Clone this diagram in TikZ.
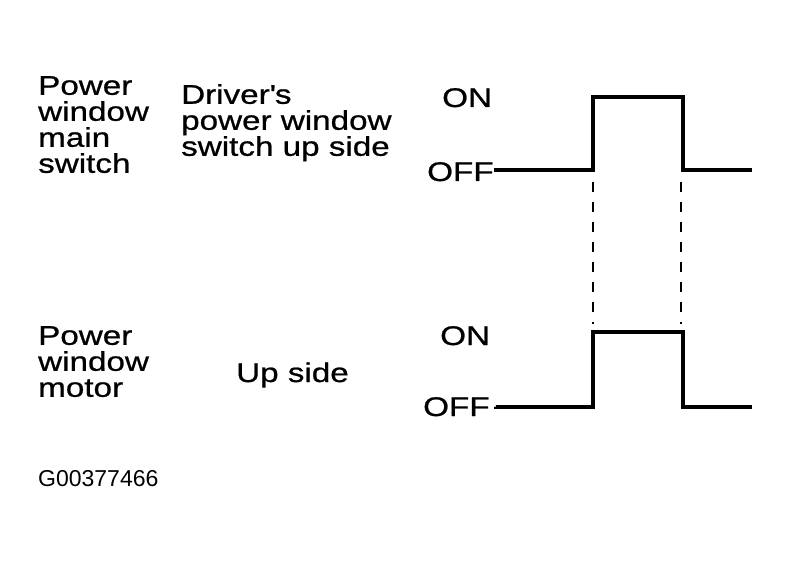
\documentclass[tikz,border=0pt]{standalone}
\usepackage{fontspec}
\setmainfont[FakeStretch=1.23, FakeBold=0.8]{Liberation Sans}
\newfontfamily\codefont{Liberation Sans}
\usetikzlibrary{calc}

\begin{document}
\begin{tikzpicture}[
x=1pt, y=-1pt,
% #region Picture settings %
lbl/.style={inner sep=0pt, align=left, font=\fontsize{27}{26}\selectfont},
sig/.style={line width=3.4pt, line join=miter},
guide/.style={line width=1.8pt, dash pattern=on 10pt off 10pt},
% #endregion Picture settings %
]
\useasboundingbox (0,0) rectangle (790,561);

\node[lbl, anchor=north west] (mainsw) at (38,76) {Power\\window\\main\\switch};
\node[lbl, anchor=north west] (drvsw) at (181,84) {Driver\textquotesingle s\\power window\\switch up side};
\node[lbl, anchor=base west] (onA) at (442,107) {ON};
\node[lbl, anchor=base west] (offA) at (427,181) {OFF};

\node[lbl, anchor=north west] (motor) at (38,326) {Power\\window\\motor};
\node[lbl, anchor=base west] (upside) at (236,382) {Up side};
\node[lbl, anchor=base west] (onB) at (440,345) {ON};
\node[lbl, anchor=base west] (offB) at (423,416) {OFF};

\node[inner sep=0pt, anchor=base west, font=\codefont\fontsize{23}{25}\selectfont] (code) at (38,486) {G00377466};

\coordinate (a1) at (593,170);
\coordinate (a2) at (593,97);
\coordinate (a3) at (683,97);
\coordinate (a4) at (683,170);
\coordinate (a5) at (752,170);

\coordinate (b1) at (593,407);
\coordinate (b2) at (593,332);
\coordinate (b3) at (683,332);
\coordinate (b4) at (683,407);
\coordinate (b5) at (752,407);

\draw[sig] ($(offA.east)+(2,0)$) |- (a1) -- (a2) -- (a3) -- (a4) -- (a5);
\draw[sig] ($(offB.east)+(6,0)$) |- (b1) -- (b2) -- (b3) -- (b4) -- (b5);

\draw[guide] ($(a1)+(0,12)$) -- ($(b2)+(0,-8)$);
\draw[guide] ($(a4)+(-2,12)$) -- ($(b3)+(-2,-8)$);

\end{tikzpicture}
\end{document}
